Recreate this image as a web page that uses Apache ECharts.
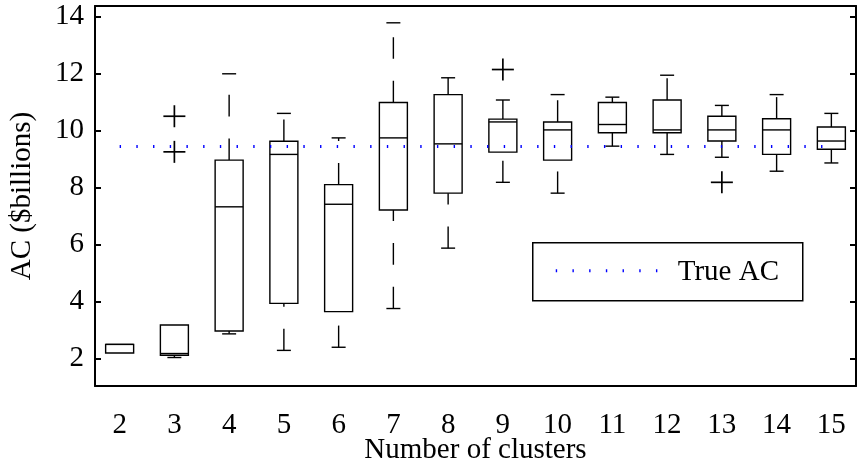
<!DOCTYPE html>
<html>
<head>
<meta charset="utf-8">
<script src="https://cdn.jsdelivr.net/npm/echarts@6/dist/echarts.min.js"></script>
<style>
  html, body { margin: 0; padding: 0; background: #fff; }
  #chart { width: 857px; height: 469px; }
</style>
</head>
<body>
<div id="chart"></div>
<script>
// Number of clusters on the x axis
const clusters = [2, 3, 4, 5, 6, 7, 8, 9, 10, 11, 12, 13, 14, 15];

// Box-plot statistics per cluster count ($billions)
const lowerWhisker = [2.20, 2.04, 2.87, 2.29, 2.40, 3.76, 5.88, 8.19, 7.81, 9.46, 9.17, 9.07, 8.58, 8.87];
const lowerQuartile = [2.20, 2.12, 2.97, 3.94, 3.65, 7.22, 7.81, 9.25, 8.97, 9.93, 9.93, 9.64, 9.17, 9.35];
const medians = [2.50, 2.18, 7.33, 9.17, 7.42, 9.75, 9.54, 10.31, 10.03, 10.22, 10.03, 10.03, 10.03, 9.64];
const upperQuartile = [2.50, 3.18, 8.97, 9.63, 8.11, 10.99, 11.27, 10.41, 10.31, 10.99, 11.08, 10.51, 10.42, 10.13];
const upperWhisker = [2.50, 3.18, 12.00, 10.61, 9.75, 13.79, 11.86, 11.08, 11.27, 11.18, 11.95, 10.89, 11.27, 10.61];

// Outliers (cluster count, value)
const outlierClusters = [3, 3, 9, 13];
const outlierValues = [10.51, 9.26, 12.15, 8.19];

// Reference value
const trueAC = 9.45;

// Tick labels
const xTicks = clusters;
const yTicks = [2, 4, 6, 8, 10, 12, 14];

const FONT = 'Liberation Serif';
const FONT_SIZE = 29;
const boxData = clusters.map((c, i) => [c, lowerWhisker[i], lowerQuartile[i], medians[i], upperQuartile[i], upperWhisker[i]]);
const outlierData = outlierClusters.map((c, i) => [c, outlierValues[i]]);

const BOX_HALF = 14;
const CAP_HALF = 7;
const LINE_W = 1.4;
const DASH = [21.7, 22];

function renderBox(params, api) {
  const x = api.value(0);
  const pLow = api.coord([x, api.value(1)]);
  const pQ1 = api.coord([x, api.value(2)]);
  const pMed = api.coord([x, api.value(3)]);
  const pQ3 = api.coord([x, api.value(4)]);
  const pHigh = api.coord([x, api.value(5)]);
  const cx = pQ1[0];
  const stroke = { stroke: '#000', lineWidth: LINE_W, fill: null };
  const children = [];
  // whiskers are drawn from the lower value toward the higher value
  if (pLow[1] - pQ1[1] > 0.5) {
    children.push({ type: 'line', shape: { x1: cx, y1: pLow[1], x2: cx, y2: pQ1[1] },
      style: Object.assign({ lineDash: DASH }, stroke) });
    children.push({ type: 'line', shape: { x1: cx - CAP_HALF, y1: pLow[1], x2: cx + CAP_HALF, y2: pLow[1] }, style: stroke });
  }
  if (pQ3[1] - pHigh[1] > 0.5) {
    children.push({ type: 'line', shape: { x1: cx, y1: pQ3[1], x2: cx, y2: pHigh[1] },
      style: Object.assign({ lineDash: DASH }, stroke) });
    children.push({ type: 'line', shape: { x1: cx - CAP_HALF, y1: pHigh[1], x2: cx + CAP_HALF, y2: pHigh[1] }, style: stroke });
  }
  children.push({ type: 'rect', shape: { x: cx - BOX_HALF, y: pQ3[1], width: 2 * BOX_HALF, height: pQ1[1] - pQ3[1] },
    style: { stroke: '#000', lineWidth: LINE_W, fill: 'rgba(0,0,0,0)' } });
  children.push({ type: 'line', shape: { x1: cx - BOX_HALF, y1: pMed[1], x2: cx + BOX_HALF, y2: pMed[1] }, style: stroke });
  return { type: 'group', children };
}

function renderOutlier(params, api) {
  const p = api.coord([api.value(0), api.value(1)]);
  const h = 11;
  const st = { stroke: '#000', lineWidth: 1.7 };
  return { type: 'group', children: [
    { type: 'line', shape: { x1: p[0] - h, y1: p[1], x2: p[0] + h, y2: p[1] }, style: st },
    { type: 'line', shape: { x1: p[0], y1: p[1] - h, x2: p[0], y2: p[1] + h }, style: st }
  ] };
}

const labelStyle = { fontFamily: FONT, fontSize: FONT_SIZE, color: '#000' };
const axisLineStyle = { color: '#000', width: 2 };

const chart = echarts.init(document.getElementById('chart'), null, { renderer: 'canvas' });
chart.setOption({
  animation: false,
  backgroundColor: '#fff',
  grid: { left: 95, right: 1, top: 6, bottom: 83, containLabel: false, outerBoundsMode: 'none' },
  xAxis: [
    {
      type: 'value', min: 1.55, max: 15.45, position: 'bottom',
      name: 'Number of clusters', nameLocation: 'middle', nameGap: 50, nameMoveOverlap: false,
      nameTextStyle: labelStyle,
      axisLine: { show: true, onZero: false, lineStyle: axisLineStyle },
      axisTick: { show: false },
      axisLabel: Object.assign({ customValues: xTicks, margin: 25 }, labelStyle),
      splitLine: { show: false }
    },
    {
      type: 'value', min: 1.55, max: 15.45, position: 'top',
      axisLine: { show: true, onZero: false, lineStyle: axisLineStyle },
      axisTick: { show: false }, axisLabel: { show: false }, splitLine: { show: false }
    }
  ],
  yAxis: [
    {
      type: 'value', min: 1.04, max: 14.38, position: 'left',
      name: 'AC ($billions)', nameLocation: 'middle', nameGap: 58, nameMoveOverlap: false,
      nameTextStyle: labelStyle,
      axisLine: { show: true, onZero: false, lineStyle: axisLineStyle },
      axisTick: { show: true, inside: true, length: 6, customValues: yTicks, lineStyle: { color: '#000', width: 2 } },
      axisLabel: Object.assign({ customValues: yTicks, margin: 11 }, labelStyle),
      splitLine: { show: false }
    },
    {
      type: 'value', min: 1.04, max: 14.38, position: 'right',
      axisLine: { show: true, onZero: false, lineStyle: axisLineStyle },
      axisTick: { show: true, inside: true, length: 6, customValues: yTicks, lineStyle: { color: '#000', width: 2 } },
      axisLabel: { show: false }, splitLine: { show: false }
    }
  ],
  series: [
    {
      name: 'AC', type: 'custom', xAxisIndex: 0, yAxisIndex: 0,
      renderItem: renderBox, data: boxData,
      encode: { x: 0, y: [1, 2, 3, 4, 5] }, clip: false
    },
    {
      name: 'Outliers', type: 'custom', xAxisIndex: 0, yAxisIndex: 0,
      renderItem: renderOutlier, data: outlierData,
      encode: { x: 0, y: 1 }, clip: false
    },
    {
      name: 'True AC', type: 'line', xAxisIndex: 0, yAxisIndex: 0,
      data: [[clusters[0], trueAC], [clusters[clusters.length - 1], trueAC]],
      symbol: 'none', silent: true,
      lineStyle: { color: '#0000ff', width: 3, type: [1.4, 15.3], cap: 'butt' }
    }
  ],
  graphic: [
    {
      type: 'group', left: 532, top: 242,
      children: [
        { type: 'rect', shape: { x: 0, y: 0, width: 270, height: 58 },
          style: { fill: '#fff', stroke: '#000', lineWidth: 1.5 } },
        { type: 'line', shape: { x1: 23, y1: 28, x2: 126, y2: 28 },
          style: { stroke: '#0000ff', lineWidth: 3, lineDash: [1.4, 15.3] } },
        { type: 'text', x: 145, y: 30,
          style: { text: 'True AC', fontFamily: FONT, fontSize: FONT_SIZE, fill: '#000', verticalAlign: 'middle', align: 'left' } }
      ]
    }
  ]
});
</script>
</body>
</html>
